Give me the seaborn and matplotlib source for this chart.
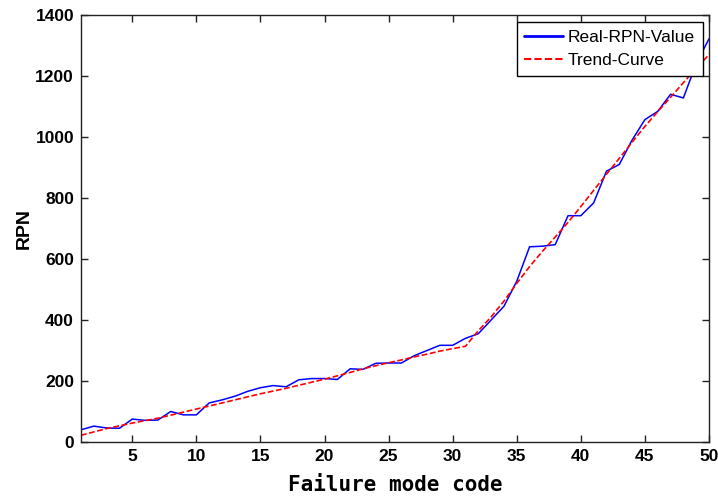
import matplotlib
matplotlib.use("Agg")
import matplotlib.pyplot as plt
import seaborn as sns
import pandas as pd
import numpy as np

# ---- data ----
failure_mode = list(range(1, 51))
real_rpn = [40, 52, 46, 45, 75, 71, 72, 100, 89, 89,
            128, 138, 150, 166, 178, 185, 181, 204, 208, 208,
            205, 240, 238, 258, 259, 259, 283, 300, 317, 317,
            340, 355, 400, 445, 527, 640, 642, 647, 742, 742,
            784, 888, 910, 990, 1057, 1084, 1140, 1128, 1240, 1322]
trend_rpn = [22, 33, 44, 53, 62, 70, 78, 88, 98, 108,
             118, 128, 138, 148, 158, 167, 176, 186, 196, 206,
             217, 228, 240, 250, 260, 269, 279, 288, 298, 306,
             314, 365, 410, 462, 520, 575, 625, 672, 720, 772,
             825, 878, 930, 983, 1035, 1083, 1130, 1178, 1225, 1270]
series_labels = ["Real-RPN-Value", "Trend-Curve"]
x_ticks = [5, 10, 15, 20, 25, 30, 35, 40, 45, 50]
y_ticks = [0, 200, 400, 600, 800, 1000, 1200, 1400]
x_label = "Failure mode code"
y_label = "RPN"

sns.set_theme(style="white")
plt.rcParams['font.family'] = ['Liberation Sans Narrow', 'Liberation Sans', 'DejaVu Sans']
plt.rcParams['text.color'] = 'black'
plt.rcParams['axes.labelcolor'] = 'black'
plt.rcParams['xtick.color'] = 'black'
plt.rcParams['ytick.color'] = 'black'

df = pd.DataFrame({"x": failure_mode, "real": real_rpn, "trend": trend_rpn})

fig = plt.figure(figsize=(7.18, 5.01), dpi=100)
ax = fig.add_axes([81/718, 1-442/501, (709-81)/718, (442-15)/501])

sns.lineplot(data=df, x="x", y="real", ax=ax, color="#0000ff", lw=1.1,
             label=series_labels[0])
sns.lineplot(data=df, x="x", y="trend", ax=ax, color="#ff0000", lw=1.2,
             linestyle=(0, (3.5, 1.5)), label=series_labels[1])

ax.set_xlim(1, 50)
ax.set_ylim(0, 1400)
ax.set_xticks(x_ticks)
ax.set_yticks(y_ticks)
tick_font = dict(family=['Liberation Sans Narrow', 'Liberation Sans'], weight='bold',
                 size=12.5, color='black')
ax.set_xticklabels([str(t) for t in x_ticks], **tick_font)
ax.set_yticklabels([str(t) for t in y_ticks], **tick_font)
ax.tick_params(axis='both', direction='in', length=5, width=1, color='#222222',
               top=True, right=True, bottom=True, left=True, pad=5)
for s in ax.spines.values():
    s.set_color('#222222')
    s.set_linewidth(1.0)

ax.set_xlabel(x_label, family=['DejaVu Sans Mono'], weight='bold', size=15,
              labelpad=8, color='black')
ax.set_ylabel(y_label, family=['Liberation Sans', 'DejaVu Sans'], weight='bold', size=14,
              labelpad=2, color='black')

leg = ax.legend(loc='upper right', bbox_to_anchor=(0.990, 0.984), borderaxespad=0,
                frameon=True, fancybox=False, edgecolor='black', framealpha=1,
                prop=dict(family=['Liberation Sans Narrow', 'Liberation Sans'], size=12.5),
                handlelength=2.2, handletextpad=0.3, borderpad=0.45, labelspacing=0.45)
leg.get_frame().set_linewidth(1.0)
for t in leg.get_texts():
    t.set_color('black')
leg.get_lines()[0].set_linewidth(2.0)
leg.get_lines()[1].set_linewidth(1.5)

fig.savefig("out.png", dpi=100)
